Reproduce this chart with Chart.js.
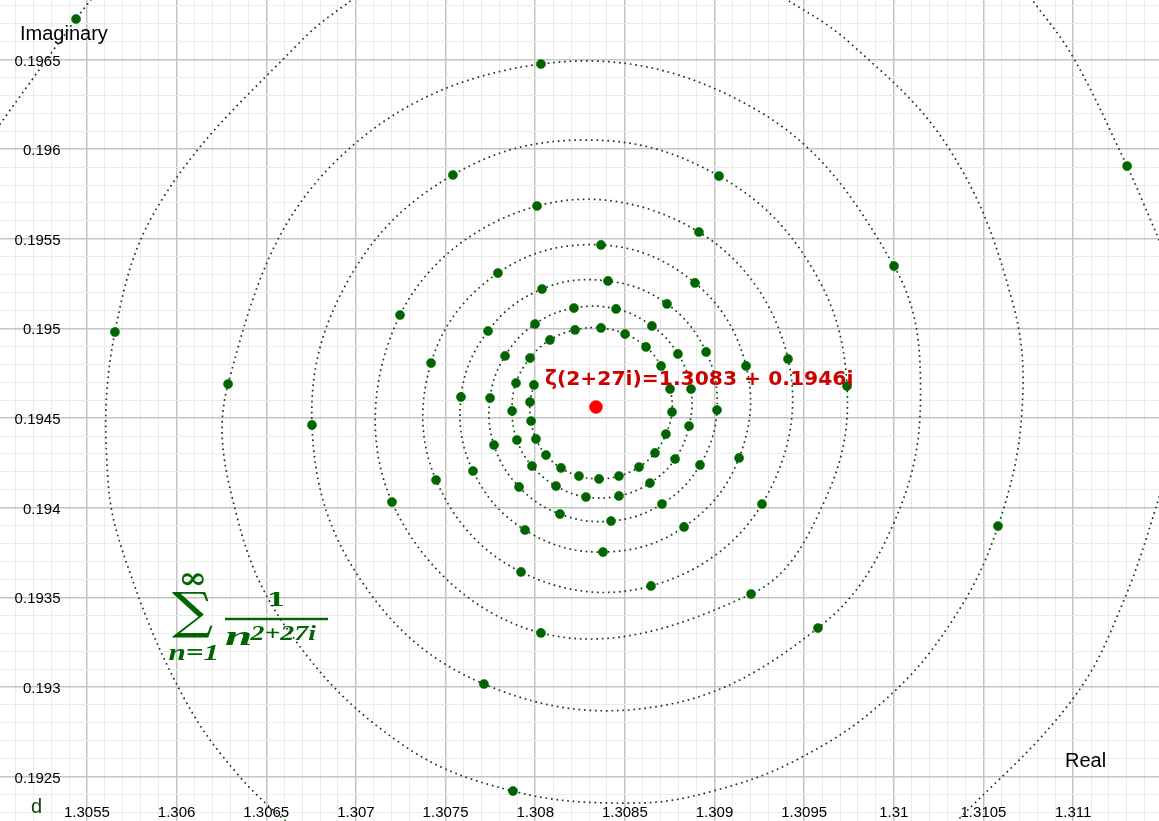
<!DOCTYPE html>
<html><head><meta charset="utf-8">
<script src="https://cdn.jsdelivr.net/npm/chart.js@4.4.0/dist/chart.umd.min.js"></script>
<style>html,body{margin:0;padding:0;background:#fff;overflow:hidden}canvas{display:block}</style>
</head><body>
<canvas id="c" width="1159" height="821"></canvas>
<script>
// ---- data ----
const xRange = [1.305015, 1.311479];
const yRange = [0.192253, 0.196832];
const xTickLabels = ['1.3055','1.306','1.3065','1.307','1.3075','1.308','1.3085','1.309','1.3095','1.31','1.3105','1.311'];
const yTickLabels = ['0.1965','0.196','0.1955','0.195','0.1945','0.194','0.1935','0.193','0.1925'];
const axisNames = ['Real', 'Imaginary'];
const zetaValue = [1.308339, 0.194562];
const zetaLabel = 'ζ(2+27i)=1.3083 + 0.1946i';
const curveName = 'd';

// partial sums, outermost first
const sumsRe = [1.305439,1.311301,1.305656,1.310581,1.307876,1.306287,1.308032,1.310001,1.309577,1.307714,
1.306755,1.307541,1.309025,1.309739,1.309204,1.308032,1.307201,1.307246,1.308010,1.308913,
1.309410,1.309265,1.308646,1.307921,1.307447,1.307419,1.307792,1.308367,1.308891,1.309176,
1.309137,1.308830,1.308378,1.307943,1.307653,1.307586,1.307737,1.308038,1.308406,1.308735,
1.308953,1.309014,1.308919,1.308707,1.308423,1.308138,1.307910,1.307770,1.307748,1.307832,
1.307999,1.308216,1.308451,1.308651,1.308796,1.308869,1.308858,1.308780,1.308640,1.308467,
1.308283,1.308116,1.307982,1.307898,1.307871,1.307893,1.307971,1.308082,1.308222,1.308367,
1.308501,1.308618,1.308702,1.308752,1.308763,1.308729,1.308668,1.308579,1.308467,1.308356,
1.308244,1.308144,1.308060,1.308004,1.307977,1.307971,1.307993];
const sumsIm = [0.196726,0.195906,0.194980,0.193898,0.192420,0.194690,0.196475,0.195348,0.193329,0.193017,
0.194462,0.195856,0.195850,0.194679,0.193519,0.193302,0.194032,0.195075,0.195683,0.195538,
0.194830,0.194021,0.193564,0.193642,0.194155,0.194807,0.195309,0.195466,0.195254,0.194791,
0.194278,0.193893,0.193753,0.193876,0.194205,0.194618,0.194986,0.195220,0.195265,0.195137,
0.194869,0.194545,0.194239,0.194021,0.193926,0.193965,0.194116,0.194350,0.194612,0.194847,
0.195025,0.195114,0.195109,0.195014,0.194858,0.194662,0.194456,0.194272,0.194138,0.194066,
0.194060,0.194121,0.194233,0.194378,0.194540,0.194696,0.194835,0.194936,0.194992,0.195003,
0.194969,0.194897,0.194791,0.194662,0.194534,0.194411,0.194306,0.194227,0.194177,0.194161,
0.194177,0.194222,0.194294,0.194384,0.194484,0.194590,0.194685];

// dotted curve "d": numbers refer to partial sums above, pairs are points read on the curve
const curveArc1 = [[1.304959,0.196062],[1.305060,0.196202],0,[1.305534,0.196849]];
const curveArc2 = [[1.310760,0.196849],[1.310999,0.196514],1,[1.311384,0.195717],[1.311518,0.195404]];
const curveArc3 = [[1.311529,0.194211],[1.311284,0.193486],[1.310994,0.192928],[1.310352,0.192253],[1.310258,0.192175]];
const curveArc4 = [[1.306699,0.192169],[1.306354,0.192498],[1.306047,0.192928],[1.305746,0.193620],[1.305617,0.194155],2,[1.305924,0.195728],[1.306688,0.196598],[1.307034,0.196877]];
const curveMain = [[1.309337,0.196877],[1.309756,0.196592],[1.310313,0.195995],[1.310659,0.195159],[1.310715,0.194545],3,
[1.310325,0.193369],[1.309951,0.192928],[1.309477,0.192604],[1.308992,0.192420],[1.308545,0.192353],4,[1.307246,0.192688],[1.306644,0.193285],[1.306337,0.193949],5,
[1.306861,0.195906],6,[1.309226,0.196224],7,[1.310149,0.194618],[1.309995,0.193904],8,[1.308696,0.192894],9,[1.307023,0.193603],10,
[1.306961,0.195276],11,[1.308294,0.196051],12,[1.309538,0.195348],13,[1.309611,0.194032],14,
15,16,17,18,19,20,21,22,23,24,25,26,27,28,29,30,31,32,33,34,35,36,37,38,39,40,41,42,43,44,45,46,47,48,49,50,
51,52,53,54,55,56,57,58,59,60,61,62,63,64,65,66,67,68,69,70,71,72,73,74,75,76,77,78,79,80,81,82,83,84,85,86];
const curveArcs = [curveArc1, curveArc2, curveArc3, curveArc4, curveMain];

// ---- build ----
const sumPoints = sumsRe.map((re, i) => ({x: re, y: sumsIm[i]}));
const toPts = arr => arr.map(e => typeof e === 'number' ? sumPoints[e] : {x: e[0], y: e[1]});

const GREEN = '#006400';
const CURVE = '#143f14';
const curveSets = curveArcs.map(a => ({
  data: toPts(a), showLine: true, pointRadius: 0, borderColor: CURVE, borderWidth: 1.7,
  borderDash: [1.7, 3.8], tension: 0.38, fill: false
}));

const isMajor = v => Math.abs(Math.round(v / 0.0005) * 0.0005 - v) < 1e-9;
const gridOpts = {
  drawTicks: false,
  color: c => (c.tick && isMajor(c.tick.value)) ? '#c4c4c4' : '#ebebeb',
  lineWidth: c => (c.tick && isMajor(c.tick.value)) ? 1.5 : 1
};

function fitText(ctx, text, prefix, family, box) {
  ctx.font = prefix + ' 100px ' + family;
  ctx.textAlign = 'left'; ctx.textBaseline = 'alphabetic';
  const m = ctx.measureText(text);
  const w = m.actualBoundingBoxLeft + m.actualBoundingBoxRight;
  const h = m.actualBoundingBoxAscent + m.actualBoundingBoxDescent;
  ctx.save();
  ctx.translate(box[0], box[1]);
  ctx.scale((box[2] - box[0]) / w, (box[3] - box[1]) / h);
  ctx.fillText(text, m.actualBoundingBoxLeft, m.actualBoundingBoxAscent);
  ctx.restore();
}

const textPlugin = {
  id: 'texts',
  beforeDatasetsDraw(chart) {
    const {ctx, scales: {x, y}} = chart;
    ctx.save();
    ctx.fillStyle = '#000';
    ctx.font = '15px "Liberation Sans", Arial, sans-serif';
    ctx.textBaseline = 'alphabetic';
    ctx.textAlign = 'right';
    yTickLabels.forEach(l => ctx.fillText(l, 60.5, y.getPixelForValue(parseFloat(l)) + 6));
    ctx.textAlign = 'center';
    xTickLabels.forEach(l => ctx.fillText(l, x.getPixelForValue(parseFloat(l)), 817));
    ctx.font = '20px "Liberation Sans", Arial, sans-serif';
    ctx.textAlign = 'left';
    ctx.fillText(axisNames[1], 20, 39.5);
    ctx.fillText(axisNames[0], 1065, 767);
    ctx.fillStyle = '#0a4a0a';
    ctx.fillText(curveName, 31, 813);
    // formula
    ctx.fillStyle = GREEN;
    fitText(ctx, '∞', 'bold', '"DejaVu Serif", serif', [182, 573, 204, 585]);
    fitText(ctx, '∑', 'normal', '"DejaVu Serif", serif', [172, 592, 213, 638]);
    fitText(ctx, 'n=1', 'italic bold', '"Liberation Serif", serif', [169, 645, 216, 660]);
    fitText(ctx, '1', 'bold', '"DejaVu Serif", serif', [270, 592, 283, 606]);
    ctx.fillRect(225, 617.8, 103, 2.4);
    fitText(ctx, 'n', 'italic bold', '"Liberation Serif", serif', [226, 632, 250, 645]);
    fitText(ctx, '2+27i', 'italic bold', '"Liberation Serif", serif', [250, 625, 316, 640]);
    ctx.restore();
  },
  afterDatasetsDraw(chart) {
    const {ctx, scales: {x, y}} = chart;
    ctx.save();
    ctx.fillStyle = '#cc0000';
    ctx.font = 'bold 20.3px "DejaVu Sans", sans-serif';
    ctx.textAlign = 'left'; ctx.textBaseline = 'alphabetic';
    ctx.fillText(zetaLabel, x.getPixelForValue(zetaValue[0]) - 51, y.getPixelForValue(zetaValue[1]) - 22);
    ctx.restore();
  }
};

new Chart(document.getElementById('c'), {
  type: 'scatter',
  data: {
    datasets: [
      {data: [{x: zetaValue[0], y: zetaValue[1]}], pointRadius: 6.5, pointBackgroundColor: '#ff0000', pointBorderColor: '#ff0000', pointBorderWidth: 0.5},
      {data: sumPoints, pointRadius: 4.6, pointBackgroundColor: GREEN, pointBorderColor: GREEN, pointBorderWidth: 0.5},
      ...curveSets
    ]
  },
  options: {
    responsive: false, animation: false, devicePixelRatio: 1,
    layout: {padding: 0, autoPadding: false},
    events: [],
    plugins: {legend: {display: false}, tooltip: {enabled: false}},
    scales: {
      x: {type: 'linear', min: xRange[0], max: xRange[1], border: {display: false}, grid: gridOpts,
          ticks: {display: false, stepSize: 0.0001, includeBounds: false, autoSkip: false}},
      y: {type: 'linear', min: yRange[0], max: yRange[1], border: {display: false}, grid: gridOpts,
          ticks: {display: false, stepSize: 0.0001, includeBounds: false, autoSkip: false}}
    }
  },
  plugins: [textPlugin]
});
</script>
</body></html>
